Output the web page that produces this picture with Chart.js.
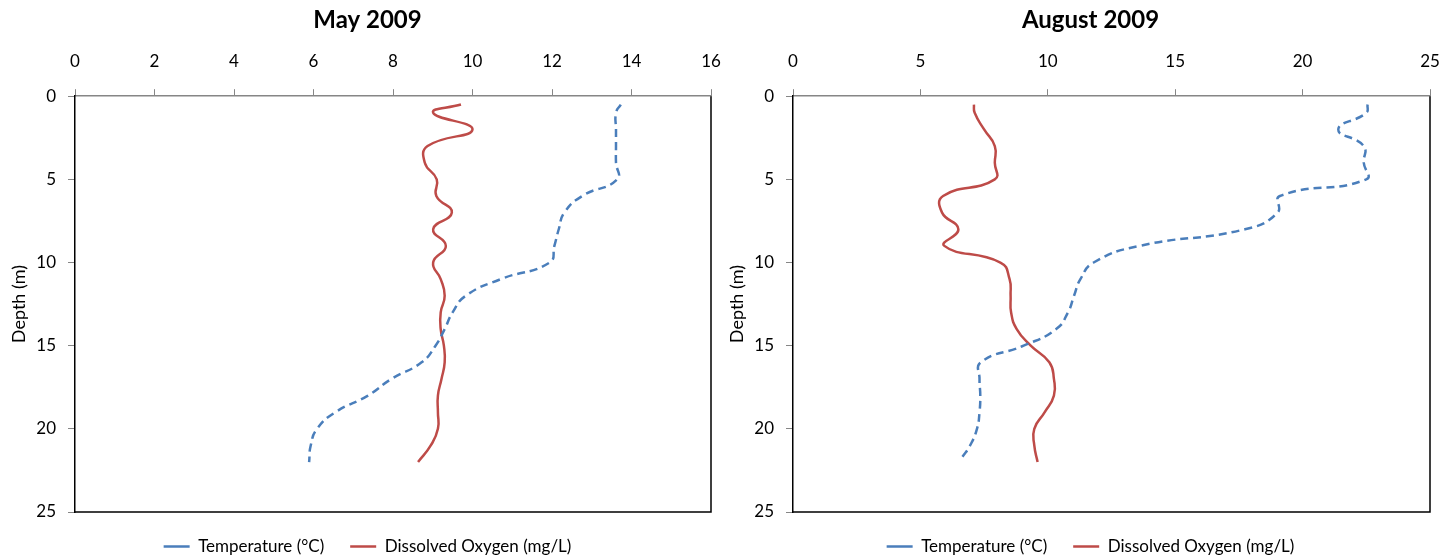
<!DOCTYPE html>
<html>
<head>
<meta charset="utf-8">
<script src="https://cdn.jsdelivr.net/npm/chart.js@4.4.1/dist/chart.umd.min.js"></script>
<style>
  body { margin: 0; background: #fff; }
  .wrap { display: flex; width: 1455px; height: 560px; }
  canvas { display: block; }
</style>
</head>
<body>
<div class="wrap">
  <canvas id="mayChart" width="727" height="560"></canvas>
  <canvas id="augChart" width="728" height="560"></canvas>
</div>
<script>
// Profundidades de muestreo (m)
const depths = [0.5, 1, 2, 3, 4, 5, 6, 7, 8, 9, 10, 11, 12, 13, 14, 15, 16, 17, 18, 19, 20, 21, 22];
const augTempDepths = [0.5, 1, 2, 3, 4, 5, 6, 7, 8, 9, 10, 11, 12, 13, 14, 15, 16, 17, 18, 19, 20, 21, 21.7];

// Mayo 2009
const mayTemp = [13.73, 13.61, 13.61, 13.61, 13.61, 13.64, 12.76, 12.31, 12.17, 12.06, 11.94, 10.71,
  9.83, 9.5, 9.3, 9.07, 8.72, 7.96, 7.37, 6.55, 6.09, 5.93, 5.89];
const mayOxygen = [9.71, 9.01, 10.0, 8.87, 8.8, 9.1, 9.09, 9.48, 9.01, 9.33, 9.01, 9.2,
  9.3, 9.2, 9.2, 9.28, 9.3, 9.22, 9.13, 9.13, 9.13, 8.95, 8.63];

// Agosto 2009
const augTemp = [22.55, 22.5, 21.4, 22.4, 22.4, 22.5, 19.11, 19.02, 17.74, 13.6, 11.8, 11.28,
  11.03, 10.79, 10.33, 9.05, 7.37, 7.32, 7.35, 7.32, 7.22, 6.95, 6.64];
const augOxygen = [7.1, 7.13, 7.5, 7.92, 7.92, 7.92, 5.89, 5.85, 6.49, 5.94, 8.14, 8.5,
  8.54, 8.56, 8.78, 9.33, 10.06, 10.24, 10.24, 9.88, 9.47, 9.47, 9.6];

const FONT = "Lato, 'Open Sans', sans-serif";
const BLUE = "#4a7ebb";
const RED = "#be4b48";

// Une valores y profundidades en puntos {x, y}
function toPoints(values, ys) {
  return values.map((v, i) => ({ x: v, y: ys[i] }));
}

// Marco negro del área de trazado (derecha y abajo)
const plotFrame = {
  id: "plotFrame",
  beforeDatasetsDraw(chart) {
    const { ctx, chartArea: a } = chart;
    ctx.save();
    ctx.strokeStyle = "#000";
    ctx.lineWidth = 1.5;
    ctx.beginPath();
    ctx.moveTo(a.right, a.top);
    ctx.lineTo(a.right, a.bottom);
    ctx.lineTo(a.left, a.bottom);
    ctx.stroke();
    ctx.restore();
  }
};

function makeChart(id, title, temp, tempDepths, oxygen, xMax, xStep, pad, rightGap) {
  return new Chart(document.getElementById(id), {
    type: "line",
    data: {
      datasets: [
        {
          label: "Temperature (°C)",
          data: toPoints(temp, tempDepths),
          borderColor: BLUE,
          backgroundColor: BLUE,
          borderWidth: 2.5,
          borderDash: [8, 5],
          pointRadius: 0,
          tension: 0.5,
          fill: false
        },
        {
          label: "Dissolved Oxygen (mg/L)",
          data: toPoints(oxygen, depths),
          borderColor: RED,
          backgroundColor: RED,
          borderWidth: 2.5,
          pointRadius: 0,
          tension: 0.5,
          fill: false
        }
      ]
    },
    options: {
      responsive: false,
      animation: false,
      devicePixelRatio: 1,
      layout: { padding: pad },
      plugins: {
        title: {
          display: true,
          text: title,
          color: "#000",
          font: { family: FONT, size: 24, weight: "bold" },
          padding: { top: 6, bottom: 0 }
        },
        legend: {
          position: "bottom",
          labels: {
            color: "#000",
            font: { family: FONT, size: 17 },
            usePointStyle: true,
            pointStyleWidth: 26,
            pointStyle: "line",
            boxHeight: 8,
            padding: 26
          }
        },
        tooltip: { enabled: false }
      },
      scales: {
        x: {
          type: "linear",
          position: "top",
          min: 0,
          max: xMax,
          afterFit: (scale) => { scale.paddingRight = rightGap; },
          ticks: { stepSize: xStep, color: "#000", padding: 17, font: { family: FONT, size: 17 } },
          grid: { drawOnChartArea: false, drawTicks: true, tickLength: 7, color: "#868686" },
          border: { color: "#868686", width: 1.5 }
        },
        y: {
          type: "linear",
          reverse: true,
          min: 0,
          max: 25,
          afterFit: (scale) => { scale.width = 67; },
          ticks: { stepSize: 5, color: "#000", padding: 12, font: { family: FONT, size: 17 } },
          grid: { drawOnChartArea: false, drawTicks: true, tickLength: 7, color: "#868686" },
          border: { color: "#000", width: 1.5 },
          title: { display: true, text: "Depth (m)", color: "#000", font: { family: FONT, size: 18 }, padding: { top: 0, bottom: 7 } }
        }
      }
    },
    plugins: [plotFrame]
  });
}

makeChart("mayChart", "May 2009", mayTemp, depths, mayOxygen, 16, 2, { left: 8, right: 0, top: 0, bottom: -5 }, 16);
makeChart("augChart", "August 2009", augTemp, augTempDepths, augOxygen, 25, 5, { left: -1, right: 0, top: 0, bottom: -5 }, 25);
</script>
</body>
</html>
